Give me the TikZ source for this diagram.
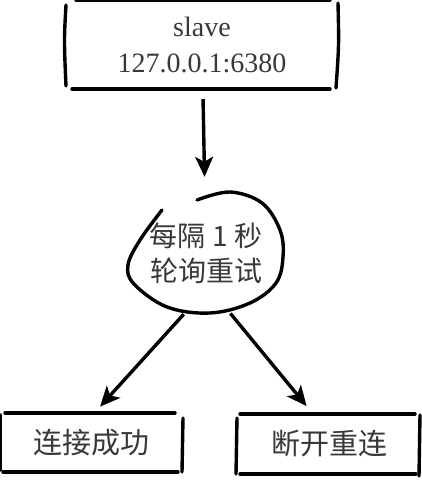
\documentclass[tikz,border=0pt]{standalone}
\usepackage{fontspec}
\setmainfont{Liberation Serif}
\newfontfamily\cjk{Noto Sans CJK SC}
\usetikzlibrary{arrows.meta}

\begin{document}
\begin{tikzpicture}[x=1pt,y=-1pt,
    sketch/.style={line width=3.4pt,line cap=round},
    arr/.style={line width=3.4pt,-{Stealth[length=20pt,width=18pt,inset=5pt]}},
    txt/.style={text=black!78,align=center,inner sep=0pt}]
        \useasboundingbox (0,0) rectangle (422,482);

        % slave
        \node[txt,minimum width=272pt,minimum height=89pt,font=\fontsize{28}{36}\selectfont] (slave) at (202,44.5) {slave\\127.0.0.1:6380};
        \draw[sketch] (66,5) .. controls (64,40) .. (66,86);
        \draw[sketch] (338,3) .. controls (339,45) .. (336,88);
        \draw[sketch] (72,89) -- (330,89);
        \draw[sketch] (76,0) -- (330,0);

        % smycka
        \node[txt,circle,minimum size=130pt,font=\cjk\fontsize{28}{35}\selectfont] (poll) at (206,253) {每隔 1 秒\\轮询重试};
        \draw[sketch] plot[smooth,tension=0.6] coordinates {(197,200) (230,192) (262,203) (280,230) (283,257)
            (276,283) (250,303) (210,313) (167,307) (134,284) (128,265) (140,240) (162,210)};

        % vysledky
        \node[txt,minimum width=183pt,minimum height=59pt,font=\cjk\fontsize{29}{32}\selectfont] (ok) at (91,443) {连接成功};
        \draw[sketch] (5,413) -- (175,413);
        \draw[sketch] (3,472) -- (178,472);
        \draw[sketch] (183,418) -- (182,472);
        \draw[sketch] (0,415) -- (0,470);

        \node[txt,minimum width=183pt,minimum height=60pt,font=\cjk\fontsize{29}{32}\selectfont] (retry) at (329,444) {断开重连};
        \draw[sketch] (240,414) -- (415,414);
        \draw[sketch] (240,474) -- (416,474);
        \draw[sketch] (237,418) -- (236,474);
        \draw[sketch] (420,415) -- (419,476);

        % sipky
        \draw[arr,shorten <=10pt,shorten >=11pt] (slave) -- (poll);
        \draw[arr,shorten >=9pt] (poll.-110) -- ([xshift=3pt]ok.north);
        \draw[arr,shorten >=10pt] (poll.-68) -- ([xshift=-16pt]retry.north);
\end{tikzpicture}
\end{document}
